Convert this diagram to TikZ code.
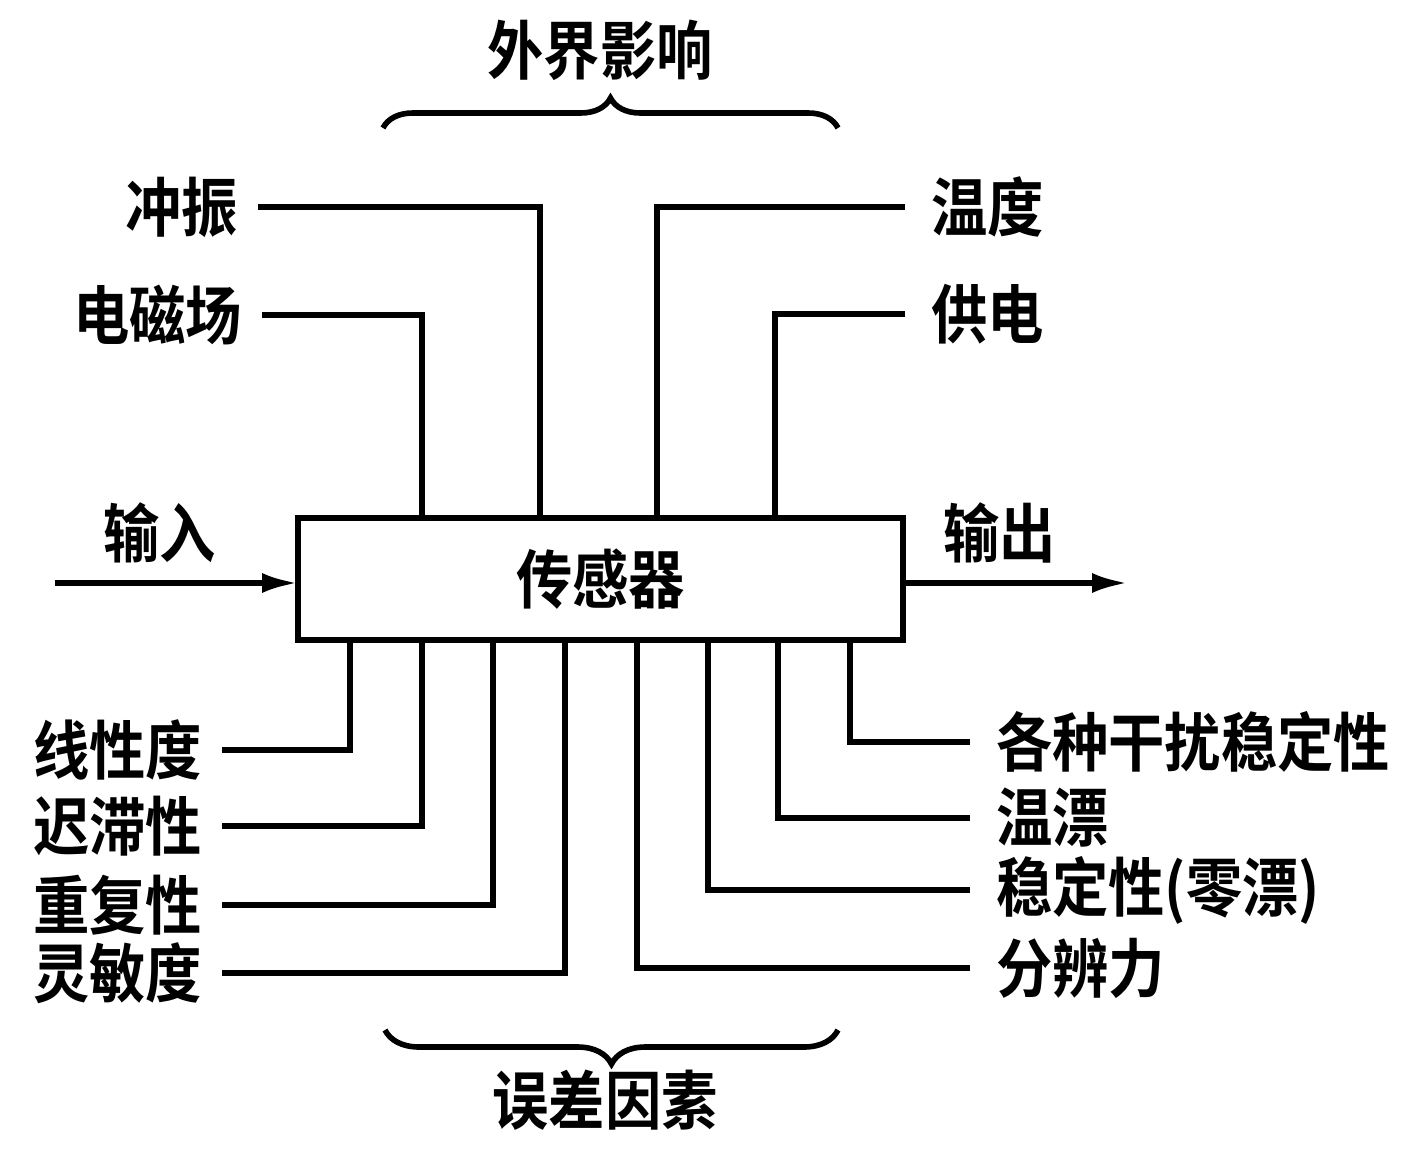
\documentclass[tikz,border=0pt]{standalone}
\usepackage{fontspec}
\setmainfont{Noto Sans CJK SC}[BoldFont={Noto Sans CJK SC Bold},FakeStretch=0.88]
\usetikzlibrary{arrows.meta,decorations.pathreplacing}

\begin{document}
\begin{tikzpicture}[x=0.5pt,y=-0.5pt,line width=2.8pt,
  lbl/.style={inner sep=0pt,outer sep=10pt,font=\fontsize{32}{34}\selectfont\bfseries},
  rlbl/.style={lbl,outer sep=13pt},
  >={Latex[length=18pt,width=10pt]}]
  \useasboundingbox (0,0) rectangle (1426,1151);

  \node[draw,lbl,minimum width=302.5pt,minimum height=61pt,outer sep=0pt] (sensor) at (600.5,579) {传感器};

  % input and output
  \coordinate (in) at (55,583);
  \coordinate (out) at (1128,583);
  \draw[->] (in) -- (in -| sensor.west) node[pos=0.43,above,lbl] (shuru) {输入};
  \draw[->] (sensor.east |- out) -- (out) node[pos=0.43,above,lbl] (shuchu) {输出};

  % outside influences
  \node[lbl,anchor=east] (chongzhen) at (258,207) {冲振};
  \node[lbl,anchor=east] (diancichang) at (262,315) {电磁场};
  \node[rlbl,anchor=west] (wendu) at (905,207) {温度};
  \node[rlbl,anchor=west] (gongdian) at (905,314) {供电};

  \draw (chongzhen.east) -| (sensor.north -| 540,0);
  \draw (diancichang.east) -| (sensor.north -| 422,0);
  \draw (wendu.west) -| (sensor.north -| 657,0);
  \draw (gongdian.west) -| (sensor.north -| 775,0);

  \draw[decorate,decoration={brace,amplitude=15pt}] (383,128) -- (838,128);
  \node[lbl] (waijie) at (600,50) {外界影响};

  % error factors
  \node[lbl,anchor=east] (xianxing) at (222,750) {线性度};
  \node[lbl,anchor=east] (chizhi) at (222,826) {迟滞性};
  \node[lbl,anchor=east] (chongfu) at (222,905) {重复性};
  \node[lbl,anchor=east] (lingmin) at (222,973) {灵敏度};
  \node[rlbl,anchor=west] (ganrao) at (970,742) {各种干扰稳定性};
  \node[rlbl,anchor=west] (wenpiao) at (970,818) {温漂};
  \node[rlbl,anchor=west] (lingpiao) at (970,890) {稳定性(零漂)};
  \node[rlbl,anchor=west] (fenbian) at (970,968) {分辨力};

  \draw (xianxing.east) -| (sensor.south -| 350,0);
  \draw (chizhi.east) -| (sensor.south -| 422,0);
  \draw (chongfu.east) -| (sensor.south -| 493,0);
  \draw (lingmin.east) -| (sensor.south -| 565,0);
  \draw (ganrao.west) -| (sensor.south -| 850,0);
  \draw (wenpiao.west) -| (sensor.south -| 778,0);
  \draw (lingpiao.west) -| (sensor.south -| 708,0);
  \draw (fenbian.west) -| (sensor.south -| 637,0);

  \draw[decorate,decoration={brace,amplitude=17pt}] (838,1030) -- (385,1030);
  \node[lbl] (wucha) at (605,1100) {误差因素};

\end{tikzpicture}
\end{document}
